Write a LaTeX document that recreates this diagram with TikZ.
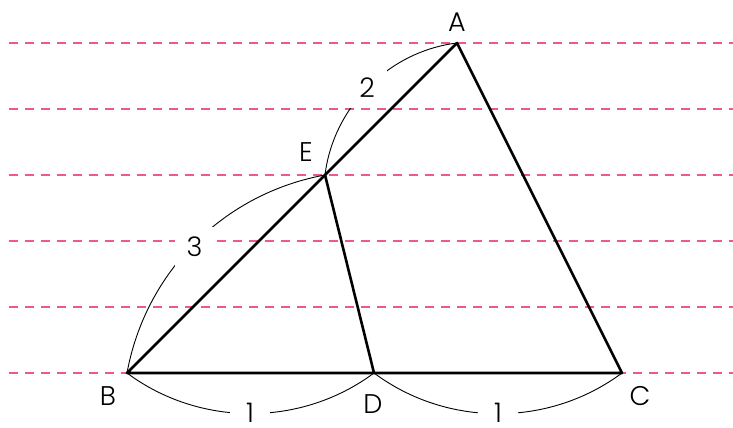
\documentclass[tikz,border=0pt]{standalone}
\usepackage{fontspec}
\setmainfont{Poppins}[UprightFont={* Light}]
\definecolor{guidepink}{RGB}{240,90,130}
\tikzset{
  guideline/.style={draw=guidepink, line width=1.3pt, dash pattern=on 9pt off 7pt},
  side/.style={line width=2.6pt, line join=round, line cap=round},
  measure/.style={line width=0.9pt, looseness=0.94},
  lab/.style={font=\fontsize{27}{27}\selectfont, inner sep=0pt},
  num/.style={lab, fill=white, minimum size=40pt},
  lownum/.style={lab, fill=white, minimum width=40pt},
}
\begin{document}
\begin{tikzpicture}[x=1pt,y=1pt]
\useasboundingbox (0,0) rectangle (733,428);
% guide lines
\foreach \yy in {385,319,253,187,121,55}
  \draw[guideline] (9,\yy) -- (733,\yy);
% vertices
\coordinate (A) at (457,385);
\coordinate (B) at (127,55);
\coordinate (C) at (622,55);
\coordinate (D) at (374,55);
\coordinate (E) at (325,253);
% measure arcs
\draw[measure] (E) to[bend left=38] (A);
\draw[measure] (B) to[bend left=34.6] (E);
\draw[measure] (B) to[bend right=36.7] (D);
\draw[measure] (D) to[bend right=36.7] (C);
% numbers
\node[num] (n2) at (367,340) {2};
\node[num] (n3) at (194.5,181) {3};
\node[lownum] (n1a) at (250,15) {1};
\node[lownum] (n1b) at (498,15) {1};
% triangle
\draw[side] (A) -- (B) -- (C) -- cycle;
\draw[side] (E) -- (D);
% vertex labels
\node[lab] (lA) at (457,406) {A};
\node[lab] (lE) at (306,276) {E};
\node[lab] (lB) at (108,32) {B};
\node[lab] (lC) at (640,32) {C};
\node[lab] (lD) at (373,24) {D};
\end{tikzpicture}
\end{document}
